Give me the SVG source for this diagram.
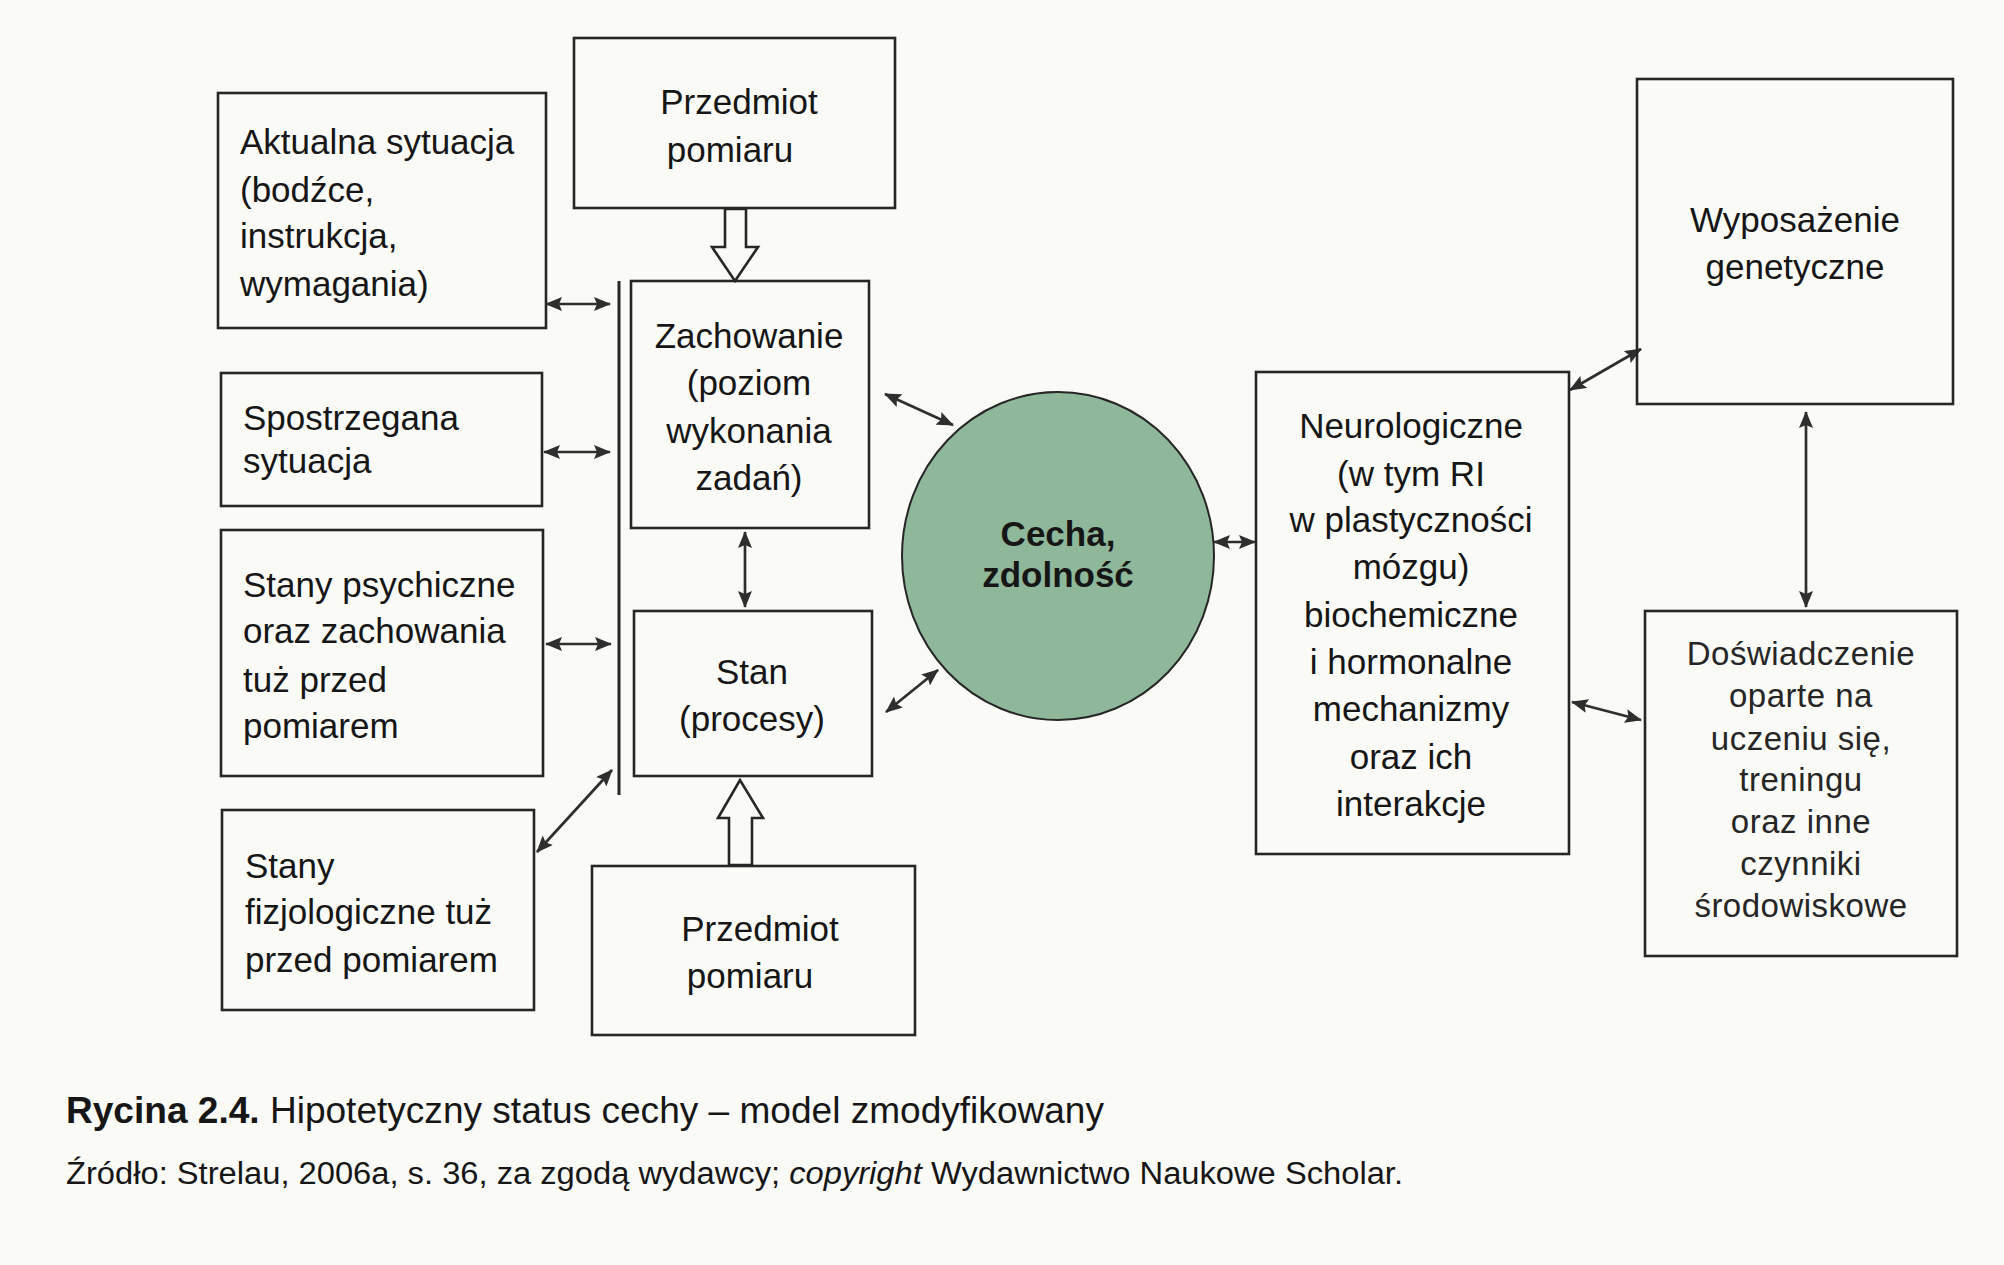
<svg xmlns="http://www.w3.org/2000/svg" width="2004" height="1265" viewBox="0 0 2004 1265">
<defs>
<marker id="ah" markerUnits="userSpaceOnUse" markerWidth="17" markerHeight="14" refX="16" refY="7" orient="auto-start-reverse">
<path d="M0,0 L17,7 L0,14 L3,7 z" fill="#2e2e2e"/>
</marker>
<style>
.box{fill:none;stroke:#262626;stroke-width:2.6}
.t{font-family:"Liberation Sans",Arial,sans-serif;font-size:35px;fill:#161616}
.c{text-anchor:middle}
.r{fill:#262626;font-size:33px;letter-spacing:0.5px}
.conn{stroke:#2e2e2e;stroke-width:2.7;fill:none;marker-start:url(#ah);marker-end:url(#ah)}
.block{fill:#fafaf6;stroke:#262626;stroke-width:2.6;stroke-linejoin:miter}
.cap{font-family:"Liberation Sans",Arial,sans-serif;fill:#161616}
</style>
</defs>
<rect x="0" y="0" width="2004" height="1265" fill="#fafaf6"/>

<g id="connectors">
<line x1="619" y1="281" x2="619" y2="795" stroke="#262626" stroke-width="3"/>
<line class="conn" x1="546" y1="304" x2="610" y2="304"/>
<line class="conn" x1="544" y1="452" x2="610" y2="452"/>
<line class="conn" x1="546" y1="644" x2="611" y2="644"/>
<line class="conn" x1="537" y1="852" x2="612" y2="770"/>
<line class="conn" x1="745" y1="532" x2="745" y2="607"/>
<line class="conn" x1="885" y1="394" x2="953" y2="425"/>
<line class="conn" x1="886" y1="712" x2="938" y2="670"/>
<line class="conn" x1="1214" y1="542" x2="1255" y2="542"/>
<line class="conn" x1="1570" y1="390" x2="1641" y2="349"/>
<line class="conn" x1="1806" y1="412" x2="1806" y2="607"/>
<line class="conn" x1="1572" y1="702" x2="1641" y2="720"/>
<path class="block" d="M725,209 L746,209 L746,247 L758,247 L735,281 L712,247 L725,247 Z"/>
<path class="block" d="M729,865 L752,865 L752,818 L763,818 L740,780 L718,818 L729,818 Z"/>
</g>

<g id="aktualna">
<rect class="box" x="218" y="93" width="328" height="235"/>
<text class="t" x="240" y="154">Aktualna sytuacja</text>
<text class="t" x="240" y="202">(bodźce,</text>
<text class="t" x="240" y="248">instrukcja,</text>
<text class="t" x="240" y="296">wymagania)</text>
</g>

<g id="przedmiot-top">
<rect class="box" x="574" y="38" width="321" height="170"/>
<text class="t c" x="739" y="114">Przedmiot</text>
<text class="t c" x="730" y="162">pomiaru</text>
</g>

<g id="spostrzegana">
<rect class="box" x="221" y="373" width="321" height="133"/>
<text class="t" x="243" y="430">Spostrzegana</text>
<text class="t" x="243" y="473">sytuacja</text>
</g>

<g id="stany-psychiczne">
<rect class="box" x="221" y="530" width="322" height="246"/>
<text class="t" x="243" y="597">Stany psychiczne</text>
<text class="t" x="243" y="643">oraz zachowania</text>
<text class="t" x="243" y="692">tuż przed</text>
<text class="t" x="243" y="738">pomiarem</text>
</g>

<g id="stany-fizjologiczne">
<rect class="box" x="222" y="810" width="312" height="200"/>
<text class="t" x="245" y="878">Stany</text>
<text class="t" x="245" y="924">fizjologiczne tuż</text>
<text class="t" x="245" y="972">przed pomiarem</text>
</g>

<g id="zachowanie">
<rect class="box" x="631" y="281" width="238" height="247"/>
<text class="t c" x="749" y="348">Zachowanie</text>
<text class="t c" x="749" y="395">(poziom</text>
<text class="t c" x="749" y="443">wykonania</text>
<text class="t c" x="749" y="490">zadań)</text>
</g>

<g id="stan">
<rect class="box" x="634" y="611" width="238" height="165"/>
<text class="t c" x="752" y="684">Stan</text>
<text class="t c" x="752" y="731">(procesy)</text>
</g>

<g id="przedmiot-bottom">
<rect class="box" x="592" y="866" width="323" height="169"/>
<text class="t c" x="760" y="941">Przedmiot</text>
<text class="t c" x="750" y="988">pomiaru</text>
</g>

<g id="cecha">
<ellipse cx="1058" cy="556" rx="156" ry="164" fill="#8fb89b" stroke="#262626" stroke-width="2"/>
<text class="t c" x="1058" y="546" font-weight="bold" fill="#2a382e">Cecha,</text>
<text class="t c" x="1058" y="587" font-weight="bold" fill="#2a382e">zdolność</text>
</g>

<g id="neurologiczne">
<rect class="box" x="1256" y="372" width="313" height="482"/>
<text class="t c" x="1411" y="438">Neurologiczne</text>
<text class="t c" x="1411" y="486">(w tym RI</text>
<text class="t c" x="1411" y="532">w plastyczności</text>
<text class="t c" x="1411" y="579">mózgu)</text>
<text class="t c" x="1411" y="627">biochemiczne</text>
<text class="t c" x="1411" y="674">i hormonalne</text>
<text class="t c" x="1411" y="721">mechanizmy</text>
<text class="t c" x="1411" y="769">oraz ich</text>
<text class="t c" x="1411" y="816">interakcje</text>
</g>

<g id="wyposazenie">
<rect class="box" x="1637" y="79" width="316" height="325"/>
<text class="t c" x="1795" y="232" fill="#262626">Wyposażenie</text>
<text class="t c" x="1795" y="279" fill="#262626">genetyczne</text>
</g>

<g id="doswiadczenie">
<rect class="box" x="1645" y="611" width="312" height="345"/>
<text class="t c r" x="1801" y="665">Doświadczenie</text>
<text class="t c r" x="1801" y="707">oparte na</text>
<text class="t c r" x="1801" y="750">uczeniu się,</text>
<text class="t c r" x="1801" y="791">treningu</text>
<text class="t c r" x="1801" y="833">oraz inne</text>
<text class="t c r" x="1801" y="875">czynniki</text>
<text class="t c r" x="1801" y="917">środowiskowe</text>
</g>

<g id="caption">
<text class="cap" x="66" y="1123" font-size="36" textLength="1038" lengthAdjust="spacingAndGlyphs"><tspan font-weight="bold">Rycina 2.4.</tspan> Hipotetyczny status cechy – model zmodyfikowany</text>
<text class="cap" x="66" y="1184" font-size="31" textLength="1337" lengthAdjust="spacingAndGlyphs">Źródło: Strelau, 2006a, s. 36, za zgodą wydawcy; <tspan font-style="italic">copyright</tspan> Wydawnictwo Naukowe Scholar.</text>
</g>
</svg>
